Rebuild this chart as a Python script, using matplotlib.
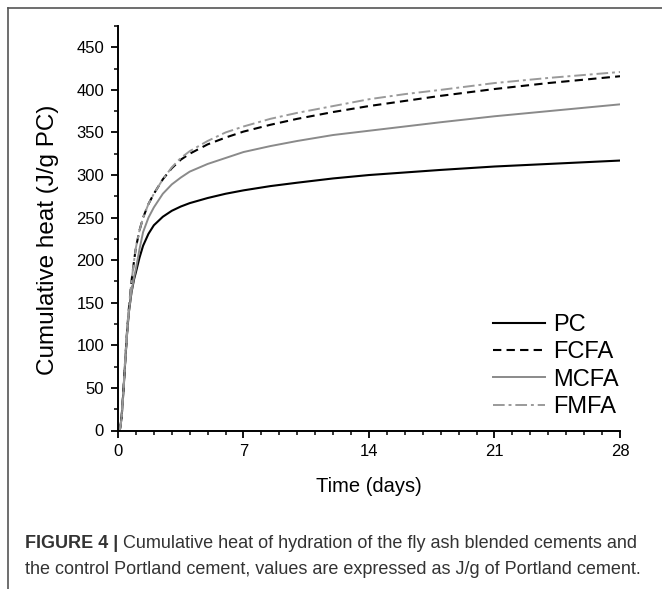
import matplotlib
matplotlib.use('Agg')
from matplotlib import pyplot as plt
from matplotlib.lines import Line2D
from matplotlib.ticker import MultipleLocator

plt.rcParams['font.family'] = ['Liberation Sans', 'DejaVu Sans']

# time in days and cumulative heat (J/g PC)
days = [0, 0.1, 0.2, 0.3, 0.4, 0.5, 0.6, 0.75, 0.9, 1.0, 1.2, 1.4, 1.7, 2.0, 2.5,
        3.0, 3.5, 4.0, 5.0, 6.0, 7.0, 8.5, 10, 12, 14, 16, 18, 21, 24, 28]
pc = [0, 0, 15, 45, 80, 112, 138, 162, 178, 186, 203, 217, 231, 241, 251,
      258, 263, 267, 273, 278, 282, 287, 291, 296, 300, 303, 306, 310, 313, 317]
fcfa = [0, 0, 15, 46, 82, 115, 142, 175, 200, 215, 235, 250, 266, 278, 295,
        308, 318, 325, 336, 344, 351, 359, 366, 374, 381, 387, 393, 401, 408, 416]
mcfa = [0, 0, 15, 45, 80, 112, 138, 162, 180, 190, 213, 233, 250, 262, 278,
        289, 297, 304, 313, 320, 327, 334, 340, 347, 352, 357, 362, 369, 375, 383]
fmfa = [0, 0, 15, 46, 82, 115, 142, 175, 200, 215, 235, 250, 266, 278, 295,
        309, 320, 328, 340, 350, 357, 366, 373, 381, 389, 395, 400, 408, 414, 421]

labels = ['PC', 'FCFA', 'MCFA', 'FMFA']
caption_bold = 'FIGURE 4 | '
caption_1 = 'Cumulative heat of hydration of the fly ash blended cements and'
caption_2 = 'the control Portland cement, values are expressed as J/g of Portland cement.'

W, H = 662, 589
fig = plt.figure(figsize=(W / 100, H / 100), dpi=100)
ax = fig.add_axes([118 / W, 1 - 430.5 / H, (620 - 118) / W, (430.5 - 26) / H])

ax.plot(days, pc, color='black', lw=1.5, label=labels[0])
ax.plot(days, fcfa, color='black', lw=1.5, ls=(0, (4, 2.5)), label=labels[1])
ax.plot(days, mcfa, color='#8a8a8a', lw=1.4, label=labels[2])
ax.plot(days, fmfa, color='#9a9a9a', lw=1.4, ls=(0, (6, 2, 1.5, 2)), label=labels[3])

ax.set_xlim(0, 28)
ax.set_ylim(0, 475)
ax.xaxis.set_major_locator(MultipleLocator(7))
ax.xaxis.set_minor_locator(MultipleLocator(1))
ax.yaxis.set_major_locator(MultipleLocator(50))
ax.yaxis.set_minor_locator(MultipleLocator(25))
ax.tick_params(which='major', length=5, width=1.3, labelsize=12, pad=5)
ax.tick_params(which='minor', length=3, width=1.1)
for side in ['top', 'right']:
    ax.spines[side].set_visible(False)
for side in ['left', 'bottom']:
    ax.spines[side].set_linewidth(1.4)

ax.set_xlabel('Time (days)', fontsize=14.5)
ax.xaxis.set_label_coords(0.5, (430.5 - 486) / 404.5)
ax.xaxis.label.set_va('center')
ax.set_ylabel('Cumulative heat (J/g PC)', fontsize=17.5)
ax.yaxis.set_label_coords((48.5 - 118) / 502, (430.5 - 240) / 404.5)
ax.yaxis.label.set_va('center')

ax.legend(loc='center left', bbox_to_anchor=(493 / W, 1 - 366 / H),
          bbox_transform=fig.transFigure, frameon=False, fontsize=17,
          handlelength=2.2, handletextpad=0.35, labelspacing=0.23,
          borderpad=0, borderaxespad=0)

# frame around the figure panel
fig.add_artist(Line2D([8 / W, 1], [1 - 8 / H, 1 - 8 / H], color='#555555', lw=1.2))
fig.add_artist(Line2D([8 / W, 8 / W], [0, 1 - 8 / H], color='#555555', lw=1.2))

# caption, bold prefix followed by normal text
cap_color = '#333333'
t0 = fig.text(25 / W, 1 - 548 / H, caption_bold, fontsize=13, fontweight='bold',
              color=cap_color, va='baseline')
fig.canvas.draw()
bb = t0.get_window_extent()
fig.text(bb.x1 / W, 1 - 548 / H, caption_1, fontsize=13, color=cap_color, va='baseline')
fig.text(25 / W, 1 - 574 / H, caption_2, fontsize=13, color=cap_color, va='baseline')

fig.savefig('out.png', dpi=100)
